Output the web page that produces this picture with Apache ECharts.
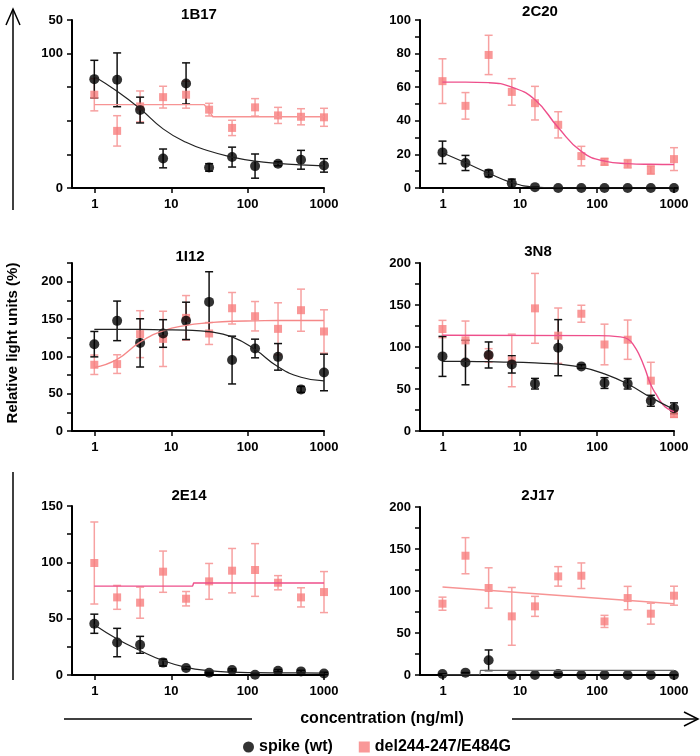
<!DOCTYPE html>
<html>
<head>
<meta charset="utf-8">
<script src="https://cdn.jsdelivr.net/npm/echarts@6/dist/echarts.min.js"></script>
<style>
    html, body { margin: 0; padding: 0; background: #fff; }
    #chart { width: 700px; height: 756px; }
</style>
</head>
<body>
<div id="chart"></div>
<script>
// dilution series (ng/ml)
var conc = [0.98, 1.95, 3.9, 7.8, 15.6, 31.25, 62.5, 125, 250, 500, 1000];
var xTicks = [1, 10, 100, 1000];

var titles = ['1B17', '2C20', '1I12', '3N8', '2E14', '2J17'];
var yMax = [125, 100, 225, 200, 150, 200];
var yStep = [25, 10, 25, 25, 25, 25];
var yLabelStep = [0, 20, 50, 50, 50, 50];
var b17TickText = {0: '0', 100: '100', 125: '50'};

// 1B17
var b17WtMean = [81, 80.5, 58, 22, 77.8, 15.3, 23, 16.3, 18, 21, 16.8];
var b17WtErr = [14, 20, 9.6, 7, 15.3, 2.8, 7.4, 9, 1.5, 7, 5];
var b17MutMean = [69.4, 42.5, 60.7, 67.6, 69.4, 58.3, 44.7, 60, 54, 53, 52.6];
var b17MutErr = [12, 11.3, 11.5, 8.1, 10, 4.7, 5.7, 6.5, 6, 6, 6.7];
var b17WtFit = [83, 72, 59, 44, 34, 27.5, 23, 20, 18.3, 17.2, 16.5];
var b17MutFitX = [0.98, 27, 31, 35, 1000];
var b17MutFitY = [62, 62, 57.5, 53, 53];

// 2C20
var c20WtMean = [21.2, 14.9, 8.7, 2.8, 0.5, 0, 0, 0, 0, 0, 0];
var c20WtErr = [6.7, 4.5, 2, 2.5, 0, 0, 0, 0, 0, 0, 0];
var c20MutMean = [63.6, 48.9, 79.2, 57.2, 50.5, 37.6, 19, 15.6, 14.4, 10.7, 17.2];
var c20MutErr = [13.3, 7.9, 11.7, 7.9, 10, 7.8, 5.8, 2, 2.5, 2.5, 6.8];
var c20WtFit = [21, 15, 8.8, 3.2, 0.6, 0.1, 0, 0, 0, 0, 0];
var c20MutFit = [63, 63, 62.7, 60, 52.5, 36, 21.8, 16, 14.5, 14.1, 14];

// 1I12
var i12WtMean = [116.3, 147.5, 118, 130.6, 147.5, 172.9, 95, 110.5, 99.3, 55.7, 78.4];
var i12WtErr = [17, 26.5, 32.3, 18.5, 25, 40.4, 32, 12.5, 17.8, 4, 24.5];
var i12MutMean = [88.7, 89.6, 129.7, 123.4, 151.5, 130.6, 164.4, 153.7, 136.8, 161.8, 133.3];
var i12MutErr = [13, 12.5, 31.4, 37, 29.9, 14.7, 21.1, 19.7, 34.9, 28.2, 29];
var i12WtFit = [136, 136, 136, 135.5, 135, 133, 126, 109, 86, 72, 67];
var i12MutFit = [85, 96, 119, 134, 141.5, 145, 147, 147.5, 148, 148, 148];

// 3N8
var n8WtMean = [88.8, 81.5, 90.5, 79.3, 56.3, 99.2, 76.9, 57.1, 56.3, 36, 27];
var n8WtErr = [23.8, 26.5, 15.5, 10.3, 6.3, 33.4, 2, 6.4, 6.3, 6.5, 6.5];
var n8MutMean = [121.4, 107.9, 90, 84, 146, 113.5, 139.6, 103, 108.7, 59.9, 20.2];
var n8MutErr = [10.3, 23, 8, 31.3, 41.6, 32.9, 10.1, 24.2, 23.4, 21.9, 4];
var n8WtFit = [83, 82.8, 82.5, 82, 81, 79.5, 76, 68, 56, 40, 25.5];
var n8MutFitX = [0.98, 100, 200, 250, 300, 360, 420, 500, 600, 726, 850, 1000];
var n8MutFitY = [114, 113.5, 112, 109.5, 102, 89, 74, 55, 42, 31, 26, 23];

// 2E14
var e14WtMean = [45.5, 28.8, 26.8, 11, 6.2, 2, 4.4, 0.3, 3.8, 3.2, 1.4];
var e14WtErr = [8.5, 12.6, 7.5, 3, 1, 0.5, 1, 0.5, 1, 1, 1];
var e14MutMean = [99.4, 68.9, 64.2, 91.7, 67.7, 83.1, 92.6, 93.2, 81.9, 68.9, 73.6];
var e14MutErr = [36.4, 10.6, 13.8, 18.3, 6.4, 15.9, 19.7, 23.4, 6.3, 8.5, 18.2];
var e14WtFit = [44.6, 32, 21.7, 12.8, 6.8, 3.8, 2.6, 2.1, 1.9, 1.8, 1.7];
var e14MutFitX = [0.98, 19, 19.6, 1000];
var e14MutFitY = [78.9, 78.9, 81.6, 81.6];

// 2J17
var j17WtMean = [1.2, 2.8, 17.5, 0, 0, 1.2, 0, 0, 0, 0, 0];
var j17WtErr = [0, 0, 12.3, 0, 0, 0, 0, 0, 0, 0, 0];
var j17MutMean = [84.9, 142, 103.6, 69.8, 81.7, 117.4, 118.2, 63.8, 91.6, 73, 94.4];
var j17MutErr = [7.8, 21.5, 24, 34.4, 11.9, 11.6, 15.2, 7.2, 13.9, 12.4, 11.3];
var j17WtFitX = [0.98, 3.0, 3.05, 1000];
var j17WtFitY = [0, 0, 5.5, 5.5];
var j17MutFitX = [0.98, 1000];
var j17MutFitY = [104.8, 84.9];

var FONT = '"Liberation Sans", Arial, sans-serif';
var WT = 'spike (wt)';
var MUT = 'del244-247/E484G';

function zip(xs, ys) {
    return xs.map(function (x, i) { return [x, ys[i]]; });
}

function errData(mean, err) {
    return conc.map(function (x, i) { return [x, mean[i] - err[i], mean[i] + err[i]]; });
}

function renderErr(color) {
    return function (params, api) {
        var x = api.value(0);
        var lo = api.coord([x, api.value(1)]);
        var hi = api.coord([x, api.value(2)]);
        var st = {stroke: color, lineWidth: 1.5};
        return {
            type: 'group',
            children: [
                {type: 'line', shape: {x1: lo[0], y1: lo[1], x2: hi[0], y2: hi[1]}, style: st},
                {type: 'line', shape: {x1: hi[0] - 4, y1: hi[1], x2: hi[0] + 4, y2: hi[1]}, style: st},
                {type: 'line', shape: {x1: lo[0] - 4, y1: lo[1], x2: lo[0] + 4, y2: lo[1]}, style: st}
            ]
        };
    };
}

var panels = [
    {wt: b17WtMean, wtErr: b17WtErr, mut: b17MutMean, mutErr: b17MutErr,
        wtFit: zip(conc, b17WtFit), mutFit: zip(b17MutFitX, b17MutFitY), wtSmooth: true, mutSmooth: false},
    {wt: c20WtMean, wtErr: c20WtErr, mut: c20MutMean, mutErr: c20MutErr,
        wtFit: zip(conc, c20WtFit), mutFit: zip(conc, c20MutFit), wtSmooth: true, mutSmooth: true},
    {wt: i12WtMean, wtErr: i12WtErr, mut: i12MutMean, mutErr: i12MutErr,
        wtFit: zip(conc, i12WtFit), mutFit: zip(conc, i12MutFit), wtSmooth: true, mutSmooth: true},
    {wt: n8WtMean, wtErr: n8WtErr, mut: n8MutMean, mutErr: n8MutErr,
        wtFit: zip(conc, n8WtFit), mutFit: zip(n8MutFitX, n8MutFitY), wtSmooth: true, mutSmooth: true},
    {wt: e14WtMean, wtErr: e14WtErr, mut: e14MutMean, mutErr: e14MutErr,
        wtFit: zip(conc, e14WtFit), mutFit: zip(e14MutFitX, e14MutFitY), wtSmooth: true, mutSmooth: false},
    {wt: j17WtMean, wtErr: j17WtErr, mut: j17MutMean, mutErr: j17MutErr,
        wtFit: zip(j17WtFitX, j17WtFitY), mutFit: zip(j17MutFitX, j17MutFitY), wtSmooth: false, mutSmooth: false}
];

// layout
var grids = [
    {left: 72, top: 20, width: 252, height: 168},
    {left: 420, top: 20, width: 254, height: 168},
    {left: 72, top: 263, width: 252, height: 168},
    {left: 420, top: 263, width: 254, height: 168},
    {left: 72, top: 506, width: 252, height: 169},
    {left: 420, top: 507, width: 254, height: 168}
];
var titlePos = [[199, 7], [540, 4], [190, 249], [538, 244], [189, 488], [538, 488]];
var mutFitColor = ['#F79494', '#EE4F8B', '#F58888', '#EE4F8B', '#EE4F8B', '#F79494'];
var wtFitColor = ['#222', '#222', '#222', '#222', '#222', '#666'];

var labelStyle = {fontFamily: FONT, fontWeight: 'bold', fontSize: 13, color: '#000'};

var option = {
    animation: false,
    title: [],
    grid: [],
    xAxis: [],
    yAxis: [],
    series: [],
    legend: {
        left: 238,
        top: 734,
        itemWidth: 11,
        itemHeight: 11,
        itemGap: 26,
        textStyle: {fontFamily: FONT, fontWeight: 'bold', fontSize: 16, color: '#000'},
        data: [{name: WT, icon: 'circle'}, {name: MUT, icon: 'rect'}]
    },
    graphic: [
        {type: 'line', shape: {x1: 13, y1: 9, x2: 13, y2: 210}, style: {stroke: '#000', lineWidth: 1.5}},
        {type: 'polyline', shape: {points: [[6, 25], [13, 9], [20, 25]]}, style: {stroke: '#000', lineWidth: 1.5, fill: null}},
        {type: 'line', shape: {x1: 13, y1: 472, x2: 13, y2: 680}, style: {stroke: '#000', lineWidth: 1.5}},
        {type: 'text', x: 13, y: 343, rotation: Math.PI / 2,
            style: {text: 'Relative light units (%)', align: 'center', verticalAlign: 'middle',
                font: 'bold 15px ' + FONT, fill: '#000'}},
        {type: 'line', shape: {x1: 64, y1: 719, x2: 252, y2: 719}, style: {stroke: '#000', lineWidth: 1.5}},
        {type: 'line', shape: {x1: 512, y1: 719, x2: 698, y2: 719}, style: {stroke: '#000', lineWidth: 1.5}},
        {type: 'polyline', shape: {points: [[684, 712], [698, 719], [684, 726]]}, style: {stroke: '#000', lineWidth: 1.5, fill: null}},
        {type: 'text', x: 382, y: 719,
            style: {text: 'concentration (ng/ml)', align: 'center', verticalAlign: 'middle',
                font: 'bold 16px ' + FONT, fill: '#000'}}
    ]
};

panels.forEach(function (p, i) {
    option.title.push({
        text: titles[i], left: titlePos[i][0], top: titlePos[i][1], textAlign: 'center', padding: 0,
        textStyle: {fontFamily: FONT, fontWeight: 'bold', fontSize: 15, color: '#000'}
    });
    option.grid.push(grids[i]);
    option.xAxis.push({
        type: 'log', logBase: 10, gridIndex: i, min: 0.5, max: 1000,
        axisLine: {lineStyle: {color: '#000', width: 2}},
        axisTick: {length: 5, lineStyle: {color: '#000', width: 1.5}, customValues: xTicks},
        minorTick: {show: false},
        axisLabel: Object.assign({margin: 10, customValues: xTicks,
            formatter: function (v) { return String(Math.round(v)); }}, labelStyle),
        splitLine: {show: false}
    });
    option.yAxis.push({
        type: 'value', gridIndex: i, min: 0, max: yMax[i], interval: yStep[i],
        axisLine: {show: true, lineStyle: {color: '#000', width: 2}},
        axisTick: {show: true, length: 5, lineStyle: {color: '#000', width: 1.5}},
        axisLabel: Object.assign({margin: 9, showMaxLabel: true, formatter: function (v) {
            if (i === 0) return b17TickText[v] || '';
            return v % yLabelStep[i] === 0 ? String(v) : '';
        }}, labelStyle),
        splitLine: {show: false}
    });

    // mutant first so the wild type sits on top
    option.series.push({
        type: 'custom', xAxisIndex: i, yAxisIndex: i, clip: false, silent: true,
        renderItem: renderErr('#F7A1A1'), encode: {x: 0, y: [1, 2]},
        data: errData(p.mut, p.mutErr)
    });
    option.series.push({
        type: 'line', xAxisIndex: i, yAxisIndex: i, showSymbol: false, symbol: 'none', silent: true,
        smooth: p.mutSmooth ? 0.5 : false,
        lineStyle: {color: mutFitColor[i], width: 1.4},
        data: p.mutFit
    });
    option.series.push({
        type: 'scatter', name: MUT, xAxisIndex: i, yAxisIndex: i, clip: false,
        symbol: 'rect', symbolSize: 8, itemStyle: {color: '#F87E7E'},
        data: zip(conc, p.mut)
    });
    option.series.push({
        type: 'custom', xAxisIndex: i, yAxisIndex: i, clip: false, silent: true,
        renderItem: renderErr('#111'), encode: {x: 0, y: [1, 2]},
        data: errData(p.wt, p.wtErr)
    });
    option.series.push({
        type: 'line', xAxisIndex: i, yAxisIndex: i, showSymbol: false, symbol: 'none', silent: true,
        smooth: p.wtSmooth ? 0.5 : false,
        lineStyle: {color: wtFitColor[i], width: 1.2},
        data: p.wtFit
    });
    option.series.push({
        type: 'scatter', name: WT, xAxisIndex: i, yAxisIndex: i, clip: false,
        symbol: 'circle', symbolSize: 10, itemStyle: {color: '#000'},
        data: zip(conc, p.wt)
    });
});

var myChart = echarts.init(document.getElementById('chart'));
myChart.setOption(option);
</script>
</body>
</html>
